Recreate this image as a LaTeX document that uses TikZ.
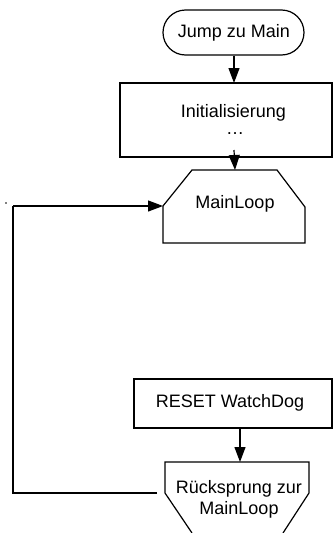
\documentclass[tikz,border=0pt]{standalone}
\usepackage{fontspec}
\setmainfont{Liberation Sans}
\usetikzlibrary{arrows.meta}
\begin{document}
\begin{tikzpicture}[x=1pt,y=-1pt,
  shapeline/.style={draw=black,line width=1.2pt},
  flow/.style={draw=black,line width=1.2pt,-{Triangle[length=15pt,width=11pt]}},
  lbl/.style={font=\fontsize{18}{21}\selectfont,inner sep=0pt,align=center}]
\useasboundingbox (0,0) rectangle (333,533);
% Jump zu Main
\node[shapeline,rounded corners=22.5pt,minimum width=141pt,minimum height=45pt,inner sep=0pt] (jump) at (233.5,32.5) {};
\node[lbl] (jumpt) at (234,32.5) {Jump zu Main};
% Initialisierung
\node[shapeline,minimum width=212pt,minimum height=74pt,inner sep=0pt] (init) at (226,120) {};
\node[lbl,anchor=base] (initt) at (233.5,117) {Initialisierung};
\node[lbl,anchor=base] (initd) at (235,134) {…};
% MainLoop
\coordinate (mlN) at (235,170);
\coordinate (mlW) at (163,206);
\draw[shapeline] (192,170) -- (277,170) -- (305,207) -- (305,243) -- (163,243) -- (163,206) -- cycle;
\node[lbl] (mlt) at (235,204) {MainLoop};
% RESET WatchDog
\node[shapeline,minimum width=198pt,minimum height=49pt,inner sep=0pt] (reset) at (233,403.5) {};
\node[lbl] (resett) at (230,403) {RESET WatchDog};
% Ruecksprung
\coordinate (rsN) at (240,462);
\coordinate (rsW) at (157,493);
\draw[shapeline] (192,533) -- (165,493) -- (165,462) -- (309,462) -- (309,493) -- (283,533);
\node[lbl] (rst) at (239,499) {Rücksprung zur\\MainLoop};
% connectors
\draw[flow] (jump.south -| init.north -| 234,0) -- (234,83);
\draw[flow] (234,150) -- (mlN);
\draw[flow] (reset.south -| rsN) -- (rsN);
\coordinate (c1) at (13,493);
\coordinate (c2) at (13,206);
\draw[shapeline] (rsW) -- (c1) -- (c2);
\draw[flow] (c2) -- (mlW);
\fill (6,203) circle (0.9pt);
\end{tikzpicture}
\end{document}
